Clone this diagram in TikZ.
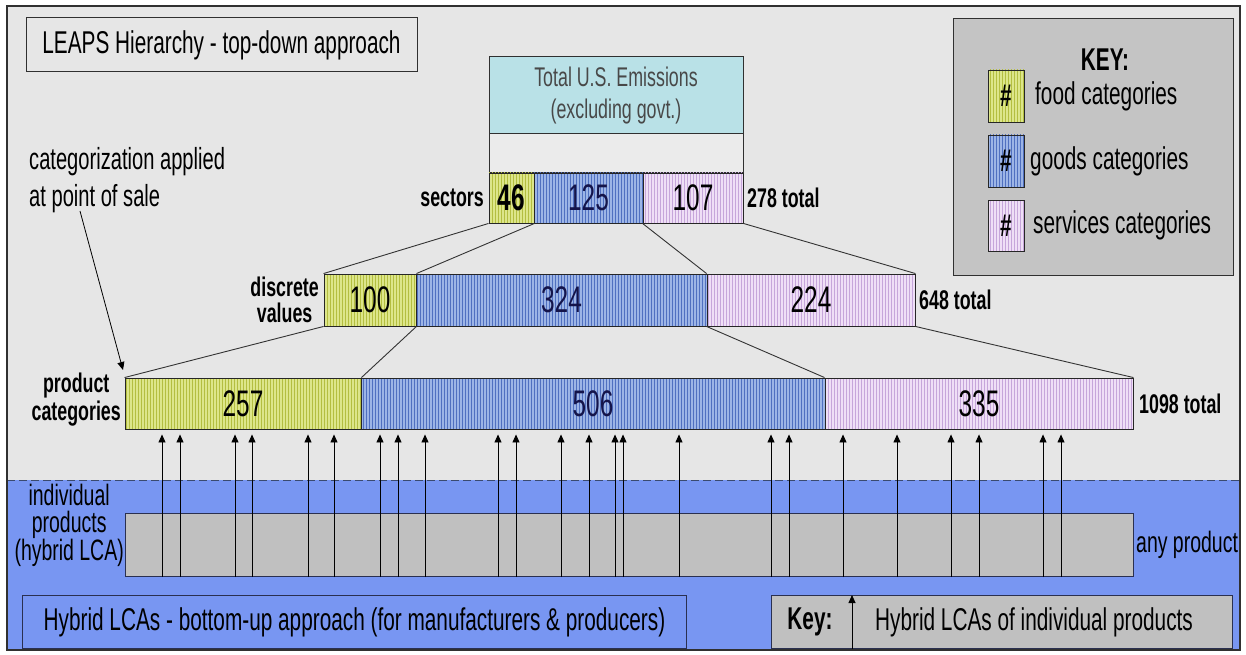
\documentclass[tikz,border=0pt]{standalone}
\usepackage{fontspec}
\setmainfont{Liberation Sans}[FakeStretch=0.66]
\usetikzlibrary{arrows.meta,patterns}
\definecolor{bgc}{HTML}{E6E6E6}
\definecolor{bluec}{HTML}{7896F2}
\definecolor{framec}{HTML}{303030}
\definecolor{navyc}{HTML}{2A3050}
\definecolor{dashc}{HTML}{3A4A70}
\definecolor{grayc}{HTML}{C0C0C0}
\definecolor{keyc}{HTML}{C4C4C4}
\definecolor{cyanc}{HTML}{B9E1E7}
\definecolor{blankc}{HTML}{EBEBEB}
\definecolor{totc}{HTML}{484848}
\definecolor{foodc}{HTML}{DDE68A}
\definecolor{foodl}{HTML}{B4BE40}
\definecolor{goodsc}{HTML}{9DB5E6}
\definecolor{goodsl}{HTML}{5070C0}
\definecolor{servc}{HTML}{EFDFF6}
\definecolor{servl}{HTML}{C6A6DA}
\definecolor{numblue}{HTML}{14144A}
\newcommand\fsz[2]{\fontsize{#1}{#2}\selectfont}
\begin{document}
\begin{tikzpicture}[x=1pt,y=-1pt,
  seg/.style={draw=black!85, line width=0.9pt, inner sep=0pt, font=\fsz{37}{38}},
  foodseg/.style={seg, preaction={fill=foodc}, pattern=vertical lines, pattern color=foodl},
  goodseg/.style={seg, preaction={fill=goodsc}, pattern=vertical lines, pattern color=goodsl, text=numblue},
  servseg/.style={seg, preaction={fill=servc}, pattern=vertical lines, pattern color=servl},
  boxc/.style={draw=framec, line width=1pt, inner sep=0pt},
  lbl/.style={inner sep=0pt, font=\fsz{27}{28}\bfseries},
  link/.style={draw=black!80, line width=0.9pt},
  arr/.style={draw=black, line width=0.8pt, -{Triangle[length=8pt,width=7pt]}},
  txt/.style={inner sep=0pt, font=\fsz{31.5}{33}}
]
\useasboundingbox (0,0) rectangle (1246,655);
\fill[white] (0,0) rectangle (1246,655);
% background
\fill[bgc] (7,6) rectangle (1240,480);
\fill[bluec] (7,480) rectangle (1240,650);
\draw[dashc, line width=1pt, dash pattern=on 8pt off 4pt] (7,480) -- (1240,480);
\draw[framec, line width=1.5pt] (7,6) rectangle (1240,650);

% title
\node[boxc, fill=bgc, minimum width=391, minimum height=54, font=\fsz{31.5}{33}] (title) at (221.5,45) {LEAPS Hierarchy - top-down approach};

% categorization note
\node[anchor=west, align=left, inner sep=0pt, font=\fsz{30.5}{37}] (cat) at (29,180) {categorization applied\\at point of sale};
\coordinate (catstart) at (80,211);
\coordinate (catend) at (123,370);
\draw[arr] (catstart) -- (catend);

% total box
\node[boxc, fill=cyanc, minimum width=254, minimum height=77, align=center, text=totc, font=\fsz{27}{32}] (total) at (616,95.5) {Total U.S. Emissions\\(excluding govt.)};
\node[boxc, fill=blankc, minimum width=254, minimum height=39] (blank) at (616,153.5) {};

% sectors row
\node[foodseg, minimum width=45, minimum height=50, font=\fsz{37}{38}\bfseries] (s46) at (511.5,198) {46};
\node[goodseg, minimum width=109, minimum height=50] (s125) at (588.5,198) {125};
\node[servseg, minimum width=100, minimum height=50] (s107) at (693,198) {107};
\node[lbl, anchor=east] (lsec) at (484,198) {sectors};
\node[lbl, anchor=west] (tsec) at (747,198) {278 total};

% discrete row
\node[foodseg, minimum width=92, minimum height=52] (d100) at (370,300) {100};
\node[goodseg, minimum width=291, minimum height=52] (d324) at (561.5,300) {324};
\node[servseg, minimum width=208, minimum height=52] (d224) at (811,300) {224};
\node[lbl, anchor=east, align=center, font=\fsz{27}{26}\bfseries] (ldis) at (319,300) {discrete\\values};
\node[lbl, anchor=west] (tdis) at (919,300) {648 total};

% product row
\node[foodseg, minimum width=236, minimum height=51] (p257) at (243,403.5) {257};
\node[goodseg, minimum width=464, minimum height=51] (p506) at (593,403.5) {506};
\node[servseg, minimum width=308, minimum height=51] (p335) at (979,403.5) {335};
\node[lbl, anchor=east, align=center, font=\fsz{27}{28}\bfseries] (lprod) at (121,400) {product\\categories};
\node[lbl, anchor=west] (tprod) at (1139,404) {1098 total};

% links
\draw[link] (s46.south west) -- (d100.north west);
\draw[link] (s46.south east) -- (d100.north east);
\draw[link] (s107.south west) -- (d224.north west);
\draw[link] (s107.south east) -- (d224.north east);
\draw[link] (d100.south west) -- (p257.north west);
\draw[link] (d100.south east) -- (p257.north east);
\draw[link] (d224.south west) -- (p335.north west);
\draw[link] (d224.south east) -- (p335.north east);

% KEY box
\node[boxc, fill=keyc, minimum width=280, minimum height=257, anchor=north west] (keybox) at (953,18) {};
\node[inner sep=0pt, font=\fsz{31.5}{33}\bfseries] (keyt) at (1105,60) {KEY:};
\node[foodseg, minimum width=36, minimum height=52, font=\fsz{31.5}{33}\bfseries] (kf) at (1006,96) {\#};
\node[goodseg, minimum width=36, minimum height=52, font=\fsz{31.5}{33}\bfseries, text=black] (kg) at (1006,161) {\#};
\node[servseg, minimum width=36, minimum height=51, font=\fsz{31.5}{33}\bfseries] (ks) at (1006,225.5) {\#};
\node[txt, anchor=west] (kft) at (1035,96) {food categories};
\node[txt, anchor=west] (kgt) at (1030,161) {goods categories};
\node[txt, anchor=west] (kst) at (1033,225) {services categories};

% individual products band
\node[draw=navyc, line width=1pt, fill=grayc, minimum width=1008, minimum height=63, anchor=north west, inner sep=0pt] (ind) at (125,513) {};
\node[anchor=east, align=center, inner sep=0pt, font=\fsz{29.5}{27.5}] (lind) at (124,525) {individual\\products\\(hybrid LCA)};
\node[anchor=west, inner sep=0pt, font=\fsz{29.5}{30}] (tind) at (1136,545) {any product};

% upward arrows
\foreach \x [count=\i] in {162,180,235,252,308,334,380,398,425,498,516,561,589,615,623,679,771,789,843,897,951,979,1043,1061} {
  \coordinate (ax\i) at (\x,0);
  \draw[arr, shorten >=5pt] (ax\i |- ind.south) -- (ax\i |- p257.south);
}

% bottom boxes
\node[draw=navyc, line width=1pt, fill=bluec, minimum width=664, minimum height=53, anchor=north west, inner sep=0pt, font=\fsz{31.5}{33}] (hyb) at (22,595) {Hybrid LCAs - bottom-up approach (for manufacturers \& producers)};
\node[draw=navyc, line width=1pt, fill=grayc, minimum width=461, minimum height=53, anchor=north west, inner sep=0pt] (keyb) at (771,595) {};
\node[inner sep=0pt, font=\fsz{31.5}{33}\bfseries] (keybl) at (810,622) {Key:};
\coordinate (kax) at (852,0);
\draw[arr] (kax |- keyb.south) -- (kax |- keyb.north);
\node[txt] (keybt) at (1034,622) {Hybrid LCAs of individual products};
\end{tikzpicture}
\end{document}
